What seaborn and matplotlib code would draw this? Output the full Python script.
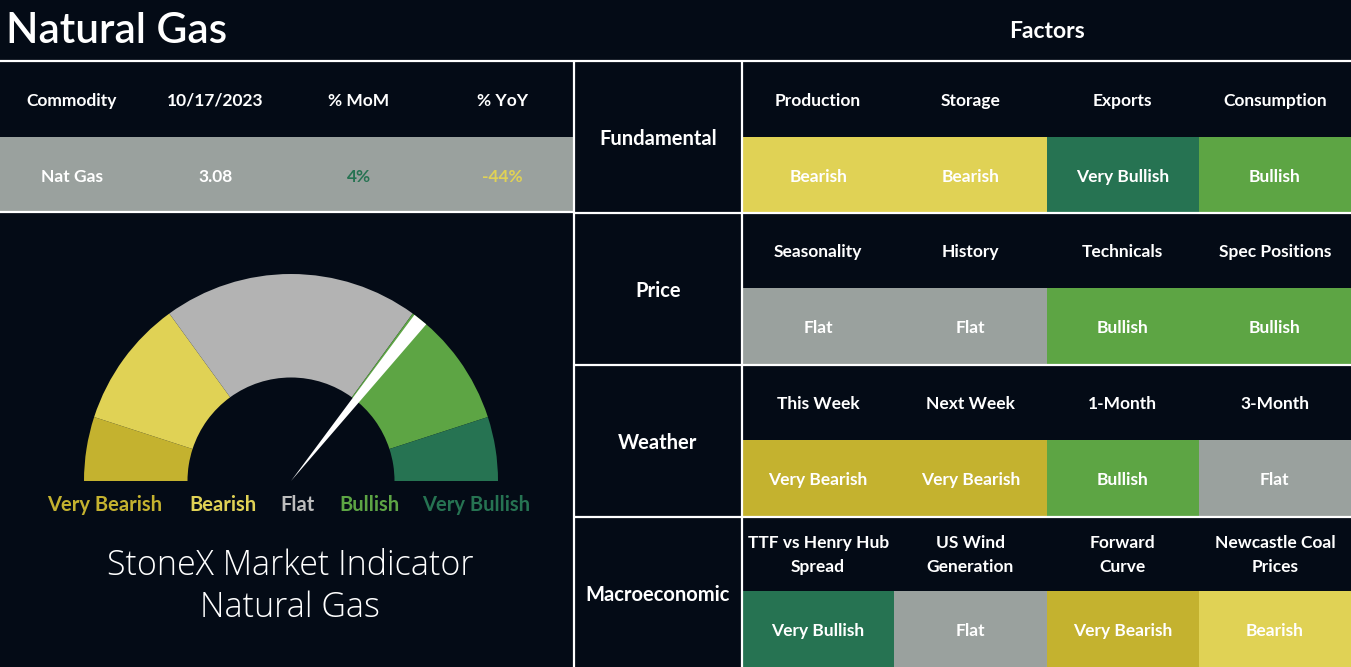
import numpy as np
import matplotlib
matplotlib.use("Agg")
import matplotlib.pyplot as plt
from matplotlib.colors import ListedColormap
from matplotlib.patches import Rectangle, Polygon
import seaborn as sns

# ---------------- data ----------------
title = "Natural Gas"
factors_title = "Factors"
table_headers = ["Commodity", "10/17/2023", "% MoM", "% YoY"]
table_values = ["Nat Gas", "3.08", "4%", "-44%"]
levels = ["Very Bearish", "Bearish", "Flat", "Bullish", "Very Bullish"]
gauge_shares = [10, 20, 40, 20, 10]
needle_value = 71.5
groups = ["Fundamental", "Price", "Weather", "Macroeconomic"]
factors = [
    ["Production", "Storage", "Exports", "Consumption"],
    ["Seasonality", "History", "Technicals", "Spec Positions"],
    ["This Week", "Next Week", "1-Month", "3-Month"],
    ["TTF vs Henry Hub\nSpread", "US Wind\nGeneration", "Forward\nCurve", "Newcastle Coal\nPrices"],
]
ratings = [
    ["Bearish", "Bearish", "Very Bullish", "Bullish"],
    ["Flat", "Flat", "Bullish", "Bullish"],
    ["Very Bearish", "Very Bearish", "Bullish", "Flat"],
    ["Very Bullish", "Flat", "Very Bearish", "Bearish"],
]
footer_lines = ["StoneX Market Indicator", "Natural Gas"]

# ---------------- style ----------------
BG = "#040B16"
GRID = "#FFFFFF"
cell_colors = ["#C4B22F", "#E0D255", "#9AA19E", "#5DA544", "#267352"]
gauge_colors = ["#C4B22F", "#E0D255", "#B3B3B3", "#5DA544", "#267352"]
label_colors = ["#C4B22F", "#E0D255", "#BDBDBD", "#5DA544", "#267352"]

sns.set_theme(style="dark", rc={"figure.facecolor": BG, "axes.facecolor": BG})
plt.rcParams["font.family"] = ["Lato", "DejaVu Sans"]

W, H = 1351, 667
fig = plt.figure(figsize=(W / 100, H / 100), dpi=100, facecolor=BG)


def px_axes(x0, y0, x1, y1, z=0):
    return fig.add_axes([x0 / W, 1 - y1 / H, (x1 - x0) / W, (y1 - y0) / H], zorder=z)


base = px_axes(0, 0, W, H, 0)
base.set_xlim(0, W)
base.set_ylim(H, 0)
base.axis("off")

# title + factors heading
base.text(6, 31, title, color="white", fontsize=30.5, fontweight="semibold", ha="left", va="center")
base.text(1047, 31, factors_title, color="white", fontsize=16.5, fontweight="bold", ha="center", va="center")

# left commodity table
colw = 574 / 4
base.add_patch(Rectangle((0, 137), 574, 75, color="#9AA19E", lw=0))
val_colors = ["white", "white", "#267352", "#E0D255"]
for i, (h, v) in enumerate(zip(table_headers, table_values)):
    cx = colw * (i + 0.5)
    base.text(cx, 101, h, color="white", fontsize=12.5, fontweight="bold", ha="center", va="center")
    base.text(cx, 177, v, color=val_colors[i], fontsize=12.5, fontweight="bold", ha="center", va="center")

# group labels
for g, name in enumerate(groups):
    base.text(658, 139 + 152 * g, name, color="white", fontsize=14.5, fontweight="bold", ha="center", va="center")

# gauge labels
label_x = [105, 223, 298, 369, 476]
for lx, lab, c in zip(label_x, levels, label_colors):
    base.text(lx, 505, lab, color=c, fontsize=14.5, fontweight="bold", ha="center", va="center")

for k, line in enumerate(footer_lines):
    base.text(290, 566 + 42 * k, line, color="white", fontsize=24.5, fontweight="light",
              family=["Open Sans", "Lato", "DejaVu Sans"], ha="center", va="center")

# ---------------- factor heatmap ----------------
codes = np.zeros((8, 4))
annot = np.empty((8, 4), dtype=object)
for g in range(4):
    codes[2 * g] = 0
    annot[2 * g] = factors[g]
    codes[2 * g + 1] = [levels.index(r) + 1 for r in ratings[g]]
    annot[2 * g + 1] = ratings[g]

hm = px_axes(742, 61, W, H, 1)
sns.heatmap(codes, ax=hm, cmap=ListedColormap([BG] + cell_colors), vmin=-0.5, vmax=5.5,
            cbar=False, annot=annot, fmt="", xticklabels=False, yticklabels=False, linewidths=0,
            annot_kws=dict(color="white", fontsize=12.5, fontweight="bold", linespacing=1.6))
hm.set_xlabel("")
hm.set_ylabel("")
row_h = (H - 61) / 8
for t in hm.texts:
    x, y = t.get_position()
    t.set_position((x, y + 2 / row_h))

# ---------------- gauge ----------------
gx = px_axes(84, 274, 498, 481, 2)
gx.pie(gauge_shares + [sum(gauge_shares)], colors=gauge_colors + ["none"], startangle=180,
       counterclock=False, radius=1, wedgeprops=dict(width=0.5, linewidth=0))
gx.set_aspect("auto")
gx.set_xlim(-1, 1)
gx.set_ylim(0, 1)
gx.axis("off")
theta = np.deg2rad(180 - needle_value / 100 * 180)
hw = np.deg2rad(2.1)
gx.add_patch(Polygon([(0, 0), (np.cos(theta + hw), np.sin(theta + hw)),
                      (np.cos(theta - hw), np.sin(theta - hw))], closed=True, color="white", lw=0))

# ---------------- grid lines ----------------
ov = px_axes(0, 0, W, H, 5)
ov.set_xlim(0, W)
ov.set_ylim(H, 0)
ov.axis("off")
ov.patch.set_alpha(0)
lw = 1.6
ov.hlines(61, 0, W, color=GRID, lw=lw)
ov.hlines(212, 0, 574, color=GRID, lw=lw)
ov.hlines([213, 365, 517], 574, W, color=GRID, lw=lw)
ov.vlines([574, 742], 61, H, color=GRID, lw=lw)

fig.savefig("out.png", dpi=100, facecolor=BG)
